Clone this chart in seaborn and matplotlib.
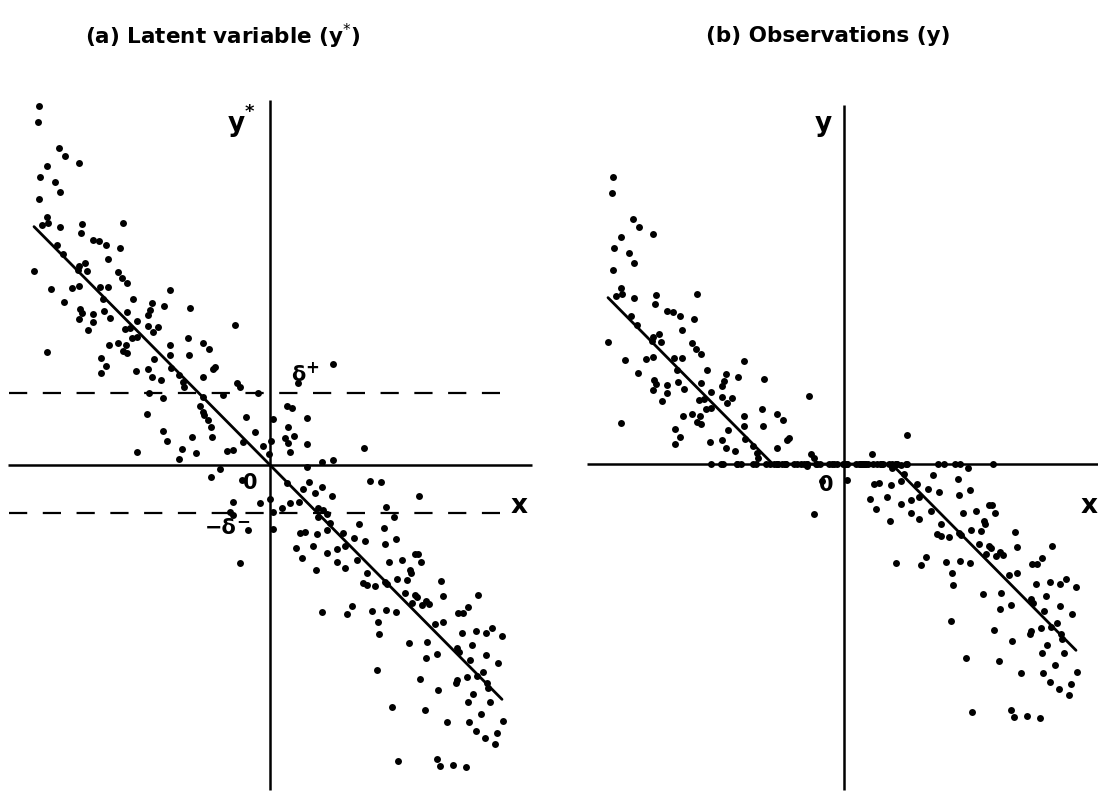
import numpy as np
import matplotlib
matplotlib.use("Agg")
import matplotlib.pyplot as plt
import seaborn as sns

# ---------------- data ----------------
x_latent = [
    -2.31, -2.32, -2.11, -2.05, -2.23, -1.91, -2.30, -2.15, -2.10, -2.31,
    -2.23, -2.22, -2.28, -2.10, -1.88, -1.89, -1.47, -1.77, -1.71, -1.64,
    -1.50, -2.13, -2.07, -1.62, -2.36, -1.91, -1.85, -1.83, -1.92, -1.52,
    -1.48, -1.43, -2.19, -1.98, -1.91, -1.70, -1.62, -1.00, -2.06, -1.90,
    -1.88, -1.77, -1.91, -1.77, -1.82, -1.66, -1.60, -1.67, -1.37, -1.18,
    -1.20, -1.22, -1.06, -0.80, -1.43, -1.33, -1.45, -1.40, -1.33, -1.38,
    -1.22, -1.12, -1.17, -0.35, -2.23, -1.61, -1.52, -1.44, -1.47, -1.43,
    -1.69, -1.64, -1.69, -1.34, -1.22, -1.18, -1.16, -1.09, -1.00, -1.00,
    -0.99, -0.82, -0.81, -0.67, -0.61, -0.57, -0.55, -0.67, -0.91, -0.87,
    -0.86, -1.21, -1.07, -0.67, -0.33, -0.30, -0.47, -0.12, -1.23, -0.70,
    -0.67, -0.66, -0.62, -0.59, -0.24, 0.03, -1.07, -1.03, -0.78, -0.58,
    -0.15, -0.27, -0.07, 0.01, -0.01, -1.33, -0.88, -0.91, -0.74, -0.43,
    -0.37, -0.59, -0.50, 0.63, 0.28, 0.17, 0.22, 0.37, 0.18, 0.24,
    0.15, 0.18, 0.37, 0.20, 0.94, 0.52, 0.63, 0.37, -0.28, 0.17,
    0.39, 0.52, 0.33, 0.45, 0.62, 1.00, 1.11, -0.37, -0.10, 0.00,
    0.12, 0.20, 0.29, 0.48, 0.53, 1.16, -0.40, -0.37, 0.03, 0.03,
    -0.22, 0.60, 0.48, 0.57, 0.30, 0.35, 0.47, 0.57, 0.73, 0.89,
    0.84, 1.24, 1.14, 0.26, 0.32, 0.43, 0.57, 0.67, 0.75, 0.67,
    0.75, 0.87, 0.46, -0.30, 1.49, 0.95, 1.15, 1.26, 1.19, 1.32,
    1.45, 1.48, 1.51, 0.97, 0.93, 0.97, 1.05, 1.15, 1.17, 1.27,
    1.40, 1.41, 1.37, 1.71, 1.35, 1.45, 1.47, 1.42, 1.52, 1.56,
    1.59, 1.73, 0.52, 0.77, 0.82, 1.02, 1.16, 1.26, 1.08, 1.09,
    1.39, 1.57, 1.65, 1.73, 1.67, 1.56, 1.88, 1.93, 1.98, 2.08,
    1.92, 2.06, 2.16, 2.22, 2.32, 1.87, 1.89, 2.02, 2.00, 2.16,
    2.28, 1.07, 1.50, 1.87, 1.86, 1.97, 2.07, 2.13, 2.17, 2.18,
    1.68, 2.03, 1.98, 2.20, 1.22, 1.55, 1.77, 2.11, 1.99, 2.33,
    2.06, 2.15, 2.27, 2.25, 1.28, 1.67, 1.70, 1.83, 1.96,
]
y_latent = [
    3.59, 3.43, 3.17, 3.09, 2.99, 3.02, 2.88, 2.83, 2.73, 2.66,
    2.48, 2.42, 2.40, 2.38, 2.41, 2.32, 2.42, 2.25, 2.24, 2.20,
    2.17, 2.20, 2.11, 2.06, 1.94, 1.99, 2.02, 1.94, 1.95, 1.93,
    1.87, 1.82, 1.76, 1.77, 1.79, 1.78, 1.78, 1.75, 1.63, 1.56,
    1.52, 1.51, 1.46, 1.43, 1.35, 1.54, 1.47, 1.66, 1.66, 1.62,
    1.55, 1.50, 1.59, 1.57, 1.53, 1.44, 1.36, 1.37, 1.28, 1.27,
    1.39, 1.38, 1.33, 1.40, 1.13, 1.20, 1.22, 1.20, 1.14, 1.12,
    1.07, 0.99, 0.92, 0.94, 0.96, 0.88, 1.06, 0.85, 1.20, 1.10,
    0.97, 1.27, 1.10, 1.22, 1.16, 0.96, 0.98, 0.88, 0.90, 0.83,
    0.78, 0.72, 0.67, 0.68, 0.82, 0.78, 0.70, 0.72, 0.51, 0.59,
    0.53, 0.50, 0.45, 0.38, 0.48, 0.46, 0.34, 0.24, 0.28, 0.28,
    0.33, 0.23, 0.19, 0.24, 0.11, 0.13, 0.16, 0.06, 0.12, 0.14,
    0.15, -0.12, -0.04, 1.01, 0.82, 0.59, 0.57, 0.47, 0.38, 0.29,
    0.27, 0.22, 0.21, 0.13, 0.17, 0.03, 0.05, -0.02, -0.15, -0.18,
    -0.17, -0.22, -0.24, -0.28, -0.31, -0.16, -0.17, -0.37, -0.38, -0.34,
    -0.43, -0.38, -0.37, -0.43, -0.45, -0.42, -0.47, -0.50, -0.47, -0.64,
    -0.65, -0.58, -0.52, -0.49, -0.68, -0.67, -0.69, -0.65, -0.68, -0.59,
    -0.73, -0.52, -0.63, -0.83, -0.93, -0.81, -0.88, -0.84, -0.81, -0.97,
    -1.03, -0.95, -1.05, -0.98, -0.31, -0.76, -0.79, -0.74, -0.97, -0.95,
    -0.89, -0.89, -0.97, -1.08, -1.18, -1.20, -1.21, -1.17, -1.19, -1.14,
    -1.05, -1.08, -1.15, -1.16, -1.28, -1.30, -1.32, -1.38, -1.40, -1.36,
    -1.39, -1.31, -1.47, -1.49, -1.41, -1.46, -1.45, -1.47, -1.57, -1.69,
    -1.78, -1.77, -1.59, -1.57, -1.89, -1.93, -1.48, -1.48, -1.42, -1.30,
    -1.68, -1.66, -1.68, -1.63, -1.71, -1.83, -1.87, -1.80, -1.95, -1.90,
    -1.98, -2.05, -2.14, -2.15, -2.18, -2.12, -2.11, -2.07, -2.18, -2.23,
    -2.25, -2.29, -2.37, -2.37, -2.42, -2.45, -2.57, -2.49, -2.57, -2.56,
    -2.66, -2.73, -2.68, -2.79, -2.96, -2.94, -3.01, -3.00, -3.02,
]

# thresholds and fitted line
delta_plus = 0.72
delta_minus = 0.48
line_slope = -1.01
line_x_range = [-2.36, 2.32]

titles = ["(a) Latent variable (y$^{*}$)", "(b) Observations (y)"]

# ---------------- derived observation values (dead zone) ----------------
xl = np.array(x_latent)
yl = np.array(y_latent)


def dead_zone(v):
    v = np.asarray(v, dtype=float)
    return np.where(v > delta_plus, v - delta_plus,
                    np.where(v < -delta_minus, v + delta_minus, 0.0))


y_obs = dead_zone(yl)

# ---------------- figure ----------------
sns.set_style("white")
plt.rcParams["font.family"] = ["DejaVu Sans"]
plt.rcParams["text.color"] = "black"

W, H = 1098, 793
fig = plt.figure(figsize=(W / 100, H / 100), dpi=100)

# left panel: origin at pixel (270, 465), 100 px per unit
axL = fig.add_axes([0, 0, 549 / W, 1])
axL.set_xlim((0 - 270) / 100, (549 - 270) / 100)
axL.set_ylim((465 - 793) / 100, (465 - 0) / 100)
# right panel: origin at pixel (844, 464)
axR = fig.add_axes([549 / W, 0, 549 / W, 1])
axR.set_xlim((549 - 844) / 100, (1098 - 844) / 100)
axR.set_ylim((464 - 793) / 100, (464 - 0) / 100)

for ax in (axL, axR):
    ax.set_axis_off()

lw_axis = 1.8
# axes lines
axL.plot([-2.62, 2.62], [0, 0], color="black", lw=lw_axis, solid_capstyle="butt")
axL.plot([0, 0], [3.65, -3.25], color="black", lw=lw_axis, solid_capstyle="butt")
axR.plot([-2.57, 2.6], [0, 0], color="black", lw=lw_axis, solid_capstyle="butt")
axR.plot([0, 0], [3.59, -3.26], color="black", lw=lw_axis, solid_capstyle="butt")

# thresholds (dashed)
for yv in (delta_plus, -delta_minus):
    axL.plot([-2.61, 2.30], [yv, yv], color="black", lw=1.6,
             linestyle=(0, (8.2, 7.0)))

# fitted line
lx = np.array(line_x_range)
axL.plot(lx, line_slope * lx, color="black", lw=2.0)
kx = np.array([line_x_range[0], delta_plus / line_slope, delta_minus / -line_slope,
               line_x_range[1]])
axR.plot(kx, dead_zone(line_slope * kx), color="black", lw=2.0)

# points
sns.scatterplot(x=xl, y=yl, ax=axL, color="black", s=25, linewidth=0,
                legend=False, zorder=5)
sns.scatterplot(x=xl, y=y_obs, ax=axR, color="black", s=25, linewidth=0,
                legend=False, zorder=5)

# titles
fig.text(223 / W, 1 - 36 / H, titles[0], ha="center", va="center",
         fontsize=15.5, fontweight="bold", color="black")
fig.text(828 / W, 1 - 36 / H, titles[1], ha="center", va="center",
         fontsize=15.5, fontweight="bold", color="black")

lab = dict(ha="center", va="center", fontweight="bold", color="black")
# left labels
axL.text((236 - 270) / 100, (465 - 124) / 100, "y", fontsize=19, **lab)
axL.text((249 - 270) / 100, (465 - 112) / 100, "*", fontsize=13, **lab)
axL.text((519 - 270) / 100, (465 - 506) / 100, "x", fontsize=19, **lab)
axL.text((250 - 270) / 100, (465 - 483) / 100, "0", fontsize=15, **lab)
axL.text((298 - 270) / 100, (465 - 375) / 100, "δ", fontsize=15, **lab)
axL.text((312 - 270) / 100, (465 - 368) / 100, "+", fontsize=12, **lab)
axL.text((221 - 270) / 100, (465 - 528) / 100, "−δ", fontsize=15, **lab)
axL.text((243 - 270) / 100, (465 - 521) / 100, "−", fontsize=12, **lab)
# right labels
axR.text((823 - 844) / 100, (464 - 124) / 100, "y", fontsize=19, **lab)
axR.text((826 - 844) / 100, (464 - 485) / 100, "0", fontsize=15, **lab)
axR.text((1089 - 844) / 100, (464 - 506) / 100, "x", fontsize=19, **lab)

fig.savefig("out.png", dpi=100, facecolor="white")
